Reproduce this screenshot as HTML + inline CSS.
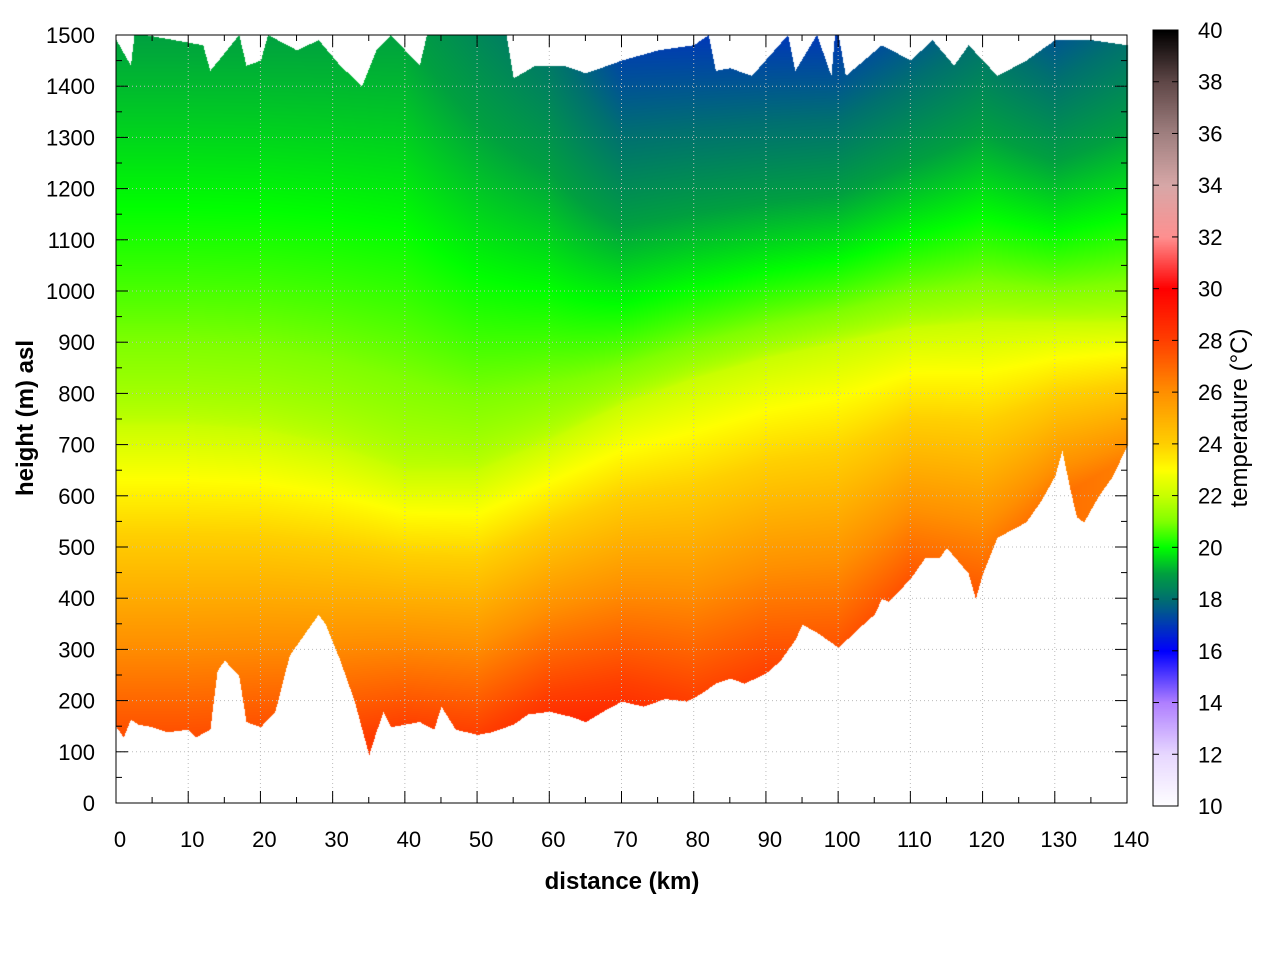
<!DOCTYPE html>
<html><head><meta charset="utf-8"><style>
body{margin:0;background:#fff;width:1280px;height:960px;overflow:hidden;font-family:"Liberation Sans",sans-serif}
#wrap{position:relative;width:1280px;height:960px}
canvas,svg{position:absolute;left:0;top:0}
</style></head><body>
<div id="wrap">
<canvas id="cv" width="1280" height="960"></canvas>
<svg id="sv" width="1280" height="960"></svg>
</div>
<script>
// ---- data ----
const terrainKm=[0,1,2,3,5,7,10,11,13,14,15,17,18,20,22,24,26,28,29,31,33,35,36,37,38,40,42,44,45,47,50,52,55,57,60,63,65,68,70,73,76,79,81,83,85,87,90,92,94,95,97,100,103,105,106,107,110,112,114,115,118,119,120,122,124,126,128,130,131,132,133,134,136,138,140];
const terrainM=[150,130,165,155,150,140,145,130,145,260,280,250,160,150,180,290,330,370,350,280,200,95,140,180,150,155,160,145,190,145,135,140,155,175,180,170,160,185,200,190,205,200,215,235,245,235,255,280,320,350,335,305,345,370,400,395,440,480,480,500,450,400,450,520,535,550,590,640,690,620,560,550,600,640,700];
const topKm=[0,2,2.5,4,12,13,17,18,20,21,25,28,31,34,36,38,42,43,45,54,55,58,62,65,70,75,80,82,83,85,88,93,94,97,99,99.5,100,101,106,110,113,116,118,122,126,130,135,140];
const topM=[1490,1440,1500,1500,1480,1430,1500,1440,1450,1500,1470,1490,1440,1400,1470,1500,1440,1500,1500,1500,1415,1440,1440,1425,1450,1470,1480,1500,1430,1435,1420,1500,1430,1500,1420,1500,1500,1420,1480,1450,1490,1440,1480,1420,1450,1490,1490,1480];
const profKm=[0,10,20,30,40,50,60,70,80,90,100,110,120,130,140];
const groundT=[27.5,27.5,27.5,27.5,28,28,28.5,28.5,28,28,27.5,27.5,27,26.5,26];
const baseM=[150,150,160,170,155,140,175,195,205,255,310,440,450,620,700];
const iso22M=[740,740,730,700,650,650,710,780,830,870,900,930,940,940,940];
const topT=[19,19,19,19,19,18.5,18,17,17,17,17,17.5,18,17.5,18];
const cbarT=[10,12,14,16,18,19,20,21,22,23,24,26,28,30,32,34,36,38,40];
const cbarC=['#ffffff','#e8d8ff','#b080ff','#0000ff','#007070','#00a040','#00ff00','#80ff00','#c8ff00','#ffff00','#ffd000','#ff9000','#ff4000','#ff0000','#ff9090','#d8a8a8','#a08080','#604848','#000000'];
const xTicks=[0,10,20,30,40,50,60,70,80,90,100,110,120,130,140];
const yTicks=[0,100,200,300,400,500,600,700,800,900,1000,1100,1200,1300,1400,1500];
const cTicks=[10,12,14,16,18,20,22,24,26,28,30,32,34,36,38,40];
// ---- axes ----
const X=d=>116+d/140*1011, Y=h=>803-h*0.512, CY=t=>806-(t-10)/30*776;
function interp(xs,ys,x){if(x<=xs[0])return ys[0];for(let i=1;i<xs.length;i++){if(x<=xs[i]){const f=(x-xs[i-1])/((xs[i]-xs[i-1])||1);return ys[i-1]+f*(ys[i]-ys[i-1]);}}return ys[ys.length-1];}
function hex(c){return [parseInt(c.slice(1,3),16),parseInt(c.slice(3,5),16),parseInt(c.slice(5,7),16)];}
const cbRGB=cbarC.map(hex);
function col(t){t=Math.max(10,Math.min(40,t));for(let i=1;i<cbarT.length;i++){if(t<=cbarT[i]){const f=(t-cbarT[i-1])/(cbarT[i]-cbarT[i-1]);const a=cbRGB[i-1],b=cbRGB[i];return [a[0]+f*(b[0]-a[0]),a[1]+f*(b[1]-a[1]),a[2]+f*(b[2]-a[2])];}}return cbRGB[cbRGB.length-1];}
const cv=document.getElementById('cv'),ctx=cv.getContext('2d');
const img=ctx.createImageData(1280,960);
for(let px=Math.round(X(0));px<=Math.round(X(140));px++){
 const d=(px-116)/1011*140;
 const g=interp(terrainKm,terrainM,d),tp=interp(topKm,topM,d);
 const tg=interp(profKm,groundT,d),i22=interp(profKm,iso22M,d),tt=interp(profKm,topT,d),b=interp(profKm,baseM,d);
 for(let py=Math.round(Y(tp));py<=Math.round(Y(g));py++){
  const h=(803-py)/0.512;let t;
  if(h<i22)t=Math.min(tg+0.4,tg+(22-tg)*(h-b)/Math.max(1,i22-b));else t=22+(tt-22)*Math.pow((h-i22)/(1500-i22),0.7);
  const c=col(t),k=(py*1280+px)*4;img.data[k]=c[0];img.data[k+1]=c[1];img.data[k+2]=c[2];img.data[k+3]=255;
 }
}
ctx.putImageData(img,0,0);
for(let py=30;py<=806;py++){const t=10+(806-py)/776*30;const c=col(t);ctx.fillStyle=`rgb(${c[0]|0},${c[1]|0},${c[2]|0})`;ctx.fillRect(1153,py,25,1);}
const sv=document.getElementById('sv');const NS='http://www.w3.org/2000/svg';
function el(tag,at,txt){const e=document.createElementNS(NS,tag);for(const k in at)e.setAttribute(k,at[k]);if(txt!==undefined)e.textContent=txt;sv.appendChild(e);return e;}
xTicks.forEach(v=>{const x=X(v);
 const gl=el('line',{x1:x,x2:x,y1:35,y2:803,stroke:'#bbb','stroke-dasharray':'1,3','stroke-width':1});
 
 el('line',{x1:x,x2:x,y1:803,y2:791,stroke:'#000'});el('line',{x1:x,x2:x,y1:35,y2:47,stroke:'#000'});
 const m=X(v+5);if(v<140){el('line',{x1:m,x2:m,y1:803,y2:797,stroke:'#000'});el('line',{x1:m,x2:m,y1:35,y2:41,stroke:'#000'});}
 const t=el('text',{x:x+4,y:847,'font-size':22,'text-anchor':'middle'},v);
 });
yTicks.forEach(v=>{const y=Y(v);
 const gl=el('line',{x1:116,x2:1127,y1:y,y2:y,stroke:'#bbb','stroke-dasharray':'1,3','stroke-width':1});
 
 el('line',{x1:116,x2:128,y1:y,y2:y,stroke:'#000'});el('line',{x1:1115,x2:1127,y1:y,y2:y,stroke:'#000'});
 const m=Y(v+50);if(v<1500){el('line',{x1:116,x2:122,y1:m,y2:m,stroke:'#000'});el('line',{x1:1121,x2:1127,y1:m,y2:m,stroke:'#000'});}
 const t=el('text',{x:95,y:y+8,'font-size':22,'text-anchor':'end'},v);
 });
const fr=el('rect',{x:116,y:35,width:1011,height:768,fill:'none',stroke:'#000'});

const cf=el('rect',{x:1153,y:30,width:25,height:776,fill:'none',stroke:'#000'});

cTicks.forEach(v=>{const y=CY(v);el('line',{x1:1153,x2:1159,y1:y,y2:y,stroke:'#000'});el('line',{x1:1172,x2:1178,y1:y,y2:y,stroke:'#000'});
 const t=el('text',{x:1198,y:y+8,'font-size':22},v);
 });
const xt=el('text',{x:622,y:889,'font-size':24,'font-weight':'bold','text-anchor':'middle'},'distance (km)');

const yt=el('text',{x:0,y:0,'font-size':24,'font-weight':'bold','text-anchor':'middle',transform:'translate(33,418) rotate(-90)'},'height (m) asl');

const ct=el('text',{x:0,y:0,'font-size':24,'text-anchor':'middle',transform:'translate(1247,418) rotate(-90)'},'temperature (°C)');

</script></body></html>
